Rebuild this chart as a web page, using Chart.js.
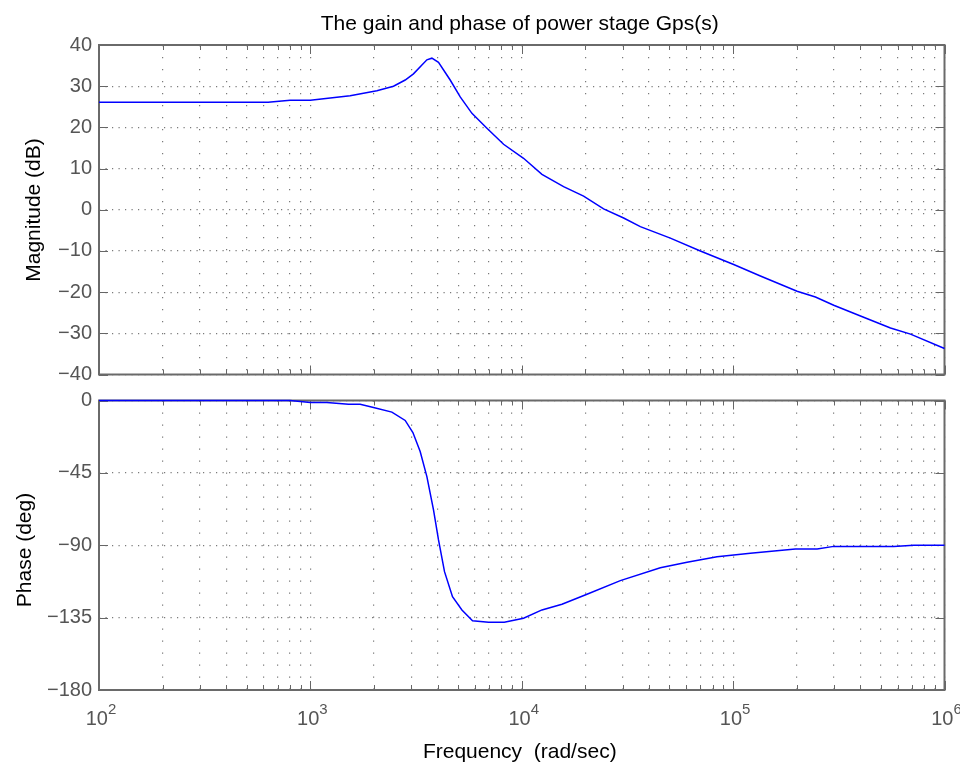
<!DOCTYPE html>
<html>
<head>
<meta charset="utf-8">
<title>Gain and phase of Gps(s)</title>
<script src="https://cdn.jsdelivr.net/npm/chart.js@4.4.1/dist/chart.umd.min.js"></script>
<style>
    html, body { margin: 0; padding: 0; background: #fff; }
    #wrap { position: relative; width: 960px; height: 762px; overflow: hidden; }
    canvas { position: absolute; left: 0; }
    #magCanvas { top: 0; }
    #phaseCanvas { top: 380px; }
</style>
</head>
<body>
<div id="wrap">
    <canvas id="magCanvas" width="960" height="394"></canvas>
    <canvas id="phaseCanvas" width="960" height="382"></canvas>
</div>
<script>
// frequency (rad/sec) and magnitude (dB)
const magFreq = [100, 631, 802, 1000, 1542, 2064, 2473, 2809, 3074, 3558, 3757, 4038, 4586, 5115,
    5812, 6844, 8203, 10198, 12462, 15771, 19614, 24390, 30336, 36390, 50466, 69984, 100600,
    134586, 200726, 245188, 299226, 400440, 555224, 690488, 1000000];
const magDb = [26.1, 26.1, 26.6, 26.6, 27.7, 28.9, 30.0, 31.5, 33.0, 36.4, 36.8, 35.8, 31.5, 27.4,
    23.4, 19.8, 15.9, 12.5, 8.6, 5.6, 3.3, 0.2, -2.0, -4.1, -6.9, -10.0, -13.3,
    -16.1, -19.8, -21.2, -23.2, -25.8, -28.7, -30.2, -33.7];

// frequency (rad/sec) and phase (deg)
const phaseFreq = [100, 802, 1000, 1196, 1514, 1720, 1989, 2430, 2809, 3055, 3307, 3558, 3824, 4038,
    4311, 4703, 5212, 5850, 6965, 8266, 10198, 12462, 15498, 20351, 29264, 45245, 60534,
    83946, 120664, 197061, 249728, 299226, 575440, 715609, 1000000];
const phaseDeg = [0, 0, -1.2, -1.2, -2.3, -2.3, -4.3, -7.2, -12.4, -19.9, -31.7, -47.3, -68, -86.7,
    -106.4, -122, -130.2, -136.9, -137.9, -137.9, -135.4, -130.2, -126.7, -120.5, -112, -104, -100.6,
    -97.1, -95, -92.3, -92.3, -90.7, -90.7, -90, -90];

// axis ticks
const decades = [1e2, 1e3, 1e4, 1e5, 1e6];
const decadeExp = ['2', '3', '4', '5', '6'];
const minorMult = [2, 3, 4, 5, 6, 7, 8, 9];
const magTicks = [-40, -30, -20, -10, 0, 10, 20, 30, 40];
const phaseTicks = [-180, -135, -90, -45, 0];

const FONT = '"Liberation Sans", Arial, Helvetica, sans-serif';

const xTickValues = [];
decades.forEach((d, i) => {
    xTickValues.push(d);
    if (i < decades.length - 1) minorMult.forEach(m => xTickValues.push(d * m));
});

const minusLabel = v => (v < 0 ? '\u2212' + Math.abs(v) : String(v));

// MATLAB style box, inward ticks and texts
const matlabPlugin = {
    id: 'matlab',
    beforeDatasetsDraw(chart, args, opts) {
        const { ctx, chartArea: a, scales } = chart;
        const x = scales.x, y = scales.y;
        ctx.save();

        // inward tick marks
        ctx.strokeStyle = '#666';
        ctx.lineWidth = 1;
        ctx.beginPath();
        xTickValues.forEach(v => {
            const px = Math.round(x.getPixelForValue(v)) + 0.5;
            const len = decades.includes(v) ? 9 : 5;
            ctx.moveTo(px, a.top); ctx.lineTo(px, a.top + len);
            ctx.moveTo(px, a.bottom); ctx.lineTo(px, a.bottom - len);
        });
        opts.yTicks.forEach(v => {
            const py = Math.round(y.getPixelForValue(v)) + 0.5;
            ctx.moveTo(a.left, py); ctx.lineTo(a.left + 9, py);
            ctx.moveTo(a.right, py); ctx.lineTo(a.right - 9, py);
        });
        ctx.stroke();

        // box
        ctx.strokeStyle = '#6a6a6a';
        ctx.lineWidth = 2;
        ctx.strokeRect(a.left, a.top, a.right - a.left, a.bottom - a.top);
        ctx.restore();
    },
    afterDraw(chart, args, opts) {
        const { ctx, chartArea: a, scales } = chart;
        const x = scales.x;
        ctx.save();

        // title
        ctx.fillStyle = '#000';
        ctx.textBaseline = 'alphabetic';
        if (opts.title) {
            ctx.font = '21px ' + FONT;
            ctx.textAlign = 'center';
            ctx.fillText(opts.title, (a.left + a.right) / 2 - 2, 30);
        }

        // y axis label
        ctx.save();
        ctx.font = '21px ' + FONT;
        ctx.textAlign = 'center';
        ctx.translate(opts.yLabelX, opts.yLabelY);
        ctx.rotate(-Math.PI / 2);
        ctx.fillText(opts.yLabel, 0, 0);
        ctx.restore();

        // x tick labels with superscript exponents
        if (opts.xLabels) {
            ctx.fillStyle = '#555';
            ctx.textAlign = 'left';
            decades.forEach((d, i) => {
                const px = x.getPixelForValue(d);
                ctx.font = '20px ' + FONT;
                const wBase = ctx.measureText('10').width;
                ctx.font = '15px ' + FONT;
                const wExp = ctx.measureText(decadeExp[i]).width;
                const x0 = px + 2 - (wBase + wExp) / 2;
                ctx.font = '20px ' + FONT;
                ctx.fillText('10', x0, a.bottom + 35);
                ctx.font = '15px ' + FONT;
                ctx.fillText(decadeExp[i], x0 + wBase, a.bottom + 24);
            });
            ctx.fillStyle = '#000';
            ctx.font = '21px ' + FONT;
            ctx.textAlign = 'center';
            ctx.fillText('Frequency  (rad/sec)', (a.left + a.right) / 2 - 2, a.bottom + 68);
        }
        ctx.restore();
    }
};

function makeOptions(yMin, yMax, yTicks, extra) {
    return {
        responsive: false,
        animation: false,
        layout: { autoPadding: false, padding: extra.padding },
        elements: { point: { radius: 0 }, line: { tension: 0 } },
        plugins: {
            legend: { display: false },
            tooltip: { enabled: false },
            matlab: Object.assign({ yTicks: yTicks }, extra.matlab)
        },
        scales: {
            x: {
                type: 'logarithmic',
                min: 100,
                max: 1e6,
                afterBuildTicks: s => { s.ticks = xTickValues.map(v => ({ value: v })); },
                afterFit: s => { s.height = 0; },
                ticks: { display: false },
                grid: { color: '#7a7a7a', lineWidth: 1.2, drawTicks: false },
                border: { display: false, dash: [1.2, 10.8] }
            },
            y: {
                min: yMin,
                max: yMax,
                afterBuildTicks: s => { s.ticks = yTicks.map(v => ({ value: v })); },
                afterFit: s => { s.width = 99; },
                ticks: {
                    padding: 7,
                    color: '#555',
                    font: { family: FONT, size: 20 },
                    callback: v => minusLabel(v)
                },
                grid: { color: '#7a7a7a', lineWidth: 1.2, drawTicks: false },
                border: { display: false, dash: [1.2, 5.3] }
            }
        }
    };
}

new Chart(document.getElementById('magCanvas'), {
    type: 'line',
    data: {
        datasets: [{
            label: 'Magnitude',
            data: magFreq.map((f, i) => ({ x: f, y: magDb[i] })),
            borderColor: '#0000ff',
            borderWidth: 1.5,
            fill: false,
            clip: 3
        }]
    },
    options: makeOptions(-40, 40, magTicks, {
        padding: { left: 0, top: 45, right: 15.5, bottom: 19.5 },
        matlab: {
            title: 'The gain and phase of power stage Gps(s)',
            yLabel: 'Magnitude (dB)',
            yLabelX: 40,
            yLabelY: 210,
            xLabels: false
        }
    }),
    plugins: [matlabPlugin]
});

new Chart(document.getElementById('phaseCanvas'), {
    type: 'line',
    data: {
        datasets: [{
            label: 'Phase',
            data: phaseFreq.map((f, i) => ({ x: f, y: phaseDeg[i] })),
            borderColor: '#0000ff',
            borderWidth: 1.5,
            fill: false,
            clip: 3
        }]
    },
    options: makeOptions(-180, 0, phaseTicks, {
        padding: { left: 0, top: 20.5, right: 15.5, bottom: 72 },
        matlab: {
            title: null,
            yLabel: 'Phase (deg)',
            yLabelX: 31,
            yLabelY: 170,
            xLabels: true
        }
    }),
    plugins: [matlabPlugin]
});
</script>
</body>
</html>
